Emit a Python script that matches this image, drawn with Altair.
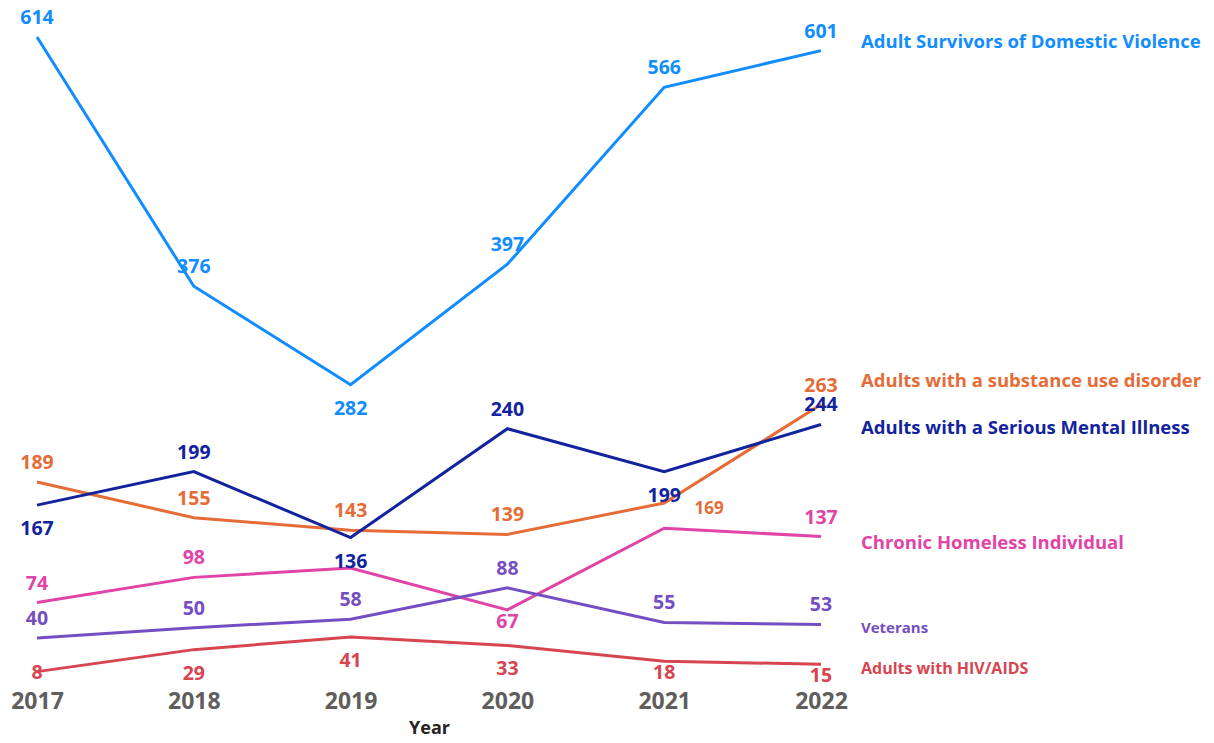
import altair as alt
import pandas as pd

years = [2017, 2018, 2019, 2020, 2021, 2022]

series_names = [
    "Adult Survivors of Domestic Violence",
    "Adults with a substance use disorder",
    "Adults with a Serious Mental Illness",
    "Chronic Homeless Individual",
    "Veterans",
    "Adults with HIV/AIDS",
]
domestic_violence = [614, 376, 282, 397, 566, 601]
substance_use = [189, 155, 143, 139, 169, 263]
mental_illness = [167, 199, 136, 240, 199, 244]
chronic_homeless = [74, 98, 107, 67, 145, 137]
veterans = [40, 50, 58, 88, 55, 53]
hiv_aids = [8, 29, 41, 33, 18, 15]

series_values = [domestic_violence, substance_use, mental_illness,
                 chronic_homeless, veterans, hiv_aids]
series_colors = ["#118DFF", "#E66C37", "#12239E", "#E044A7", "#744EC2", "#D64550"]

# where each data label sits relative to its point
label_places = [
    ["above", "above", "below", "above", "above", "above"],
    ["above", "above", "above", "above", "right", "above"],
    ["below", "above", "below", "above", "below", "above"],
    ["above", "above", "hidden", "near", "hidden", "above"],
    ["above", "above", "above", "above", "above", "above"],
    ["center", "below", "below", "below", "near", "near"],
]

# styling of the series names at the right end
name_sizes = [18.5, 18.5, 18.5, 18.5, 15, 16]
name_dy = [-9, -24, 4, 6, 4, 5]

rows = []
for name, vals, places in zip(series_names, series_values, label_places):
    for yr, v, p in zip(years, vals, places):
        rows.append({"series": name, "year": yr, "value": v, "place": p})
df = pd.DataFrame(rows)

color = alt.Color("series:N", scale=alt.Scale(domain=series_names, range=series_colors), legend=None)
x = alt.X("year:O", scale=alt.Scale(type="point", padding=0),
          axis=alt.Axis(title="Year", labelAngle=0, labelFontSize=23, labelFontWeight="bold",
                        labelColor="#605E5C", labelFont="Open Sans", labelPadding=10,
                        domain=False, ticks=False, grid=False,
                        titleFont="Open Sans", titleFontSize=18, titleFontWeight="bold",
                        titleColor="#252423", titlePadding=6))
y = alt.Y("value:Q", scale=alt.Scale(domain=[0, 614], nice=False, zero=True), axis=None)

base = alt.Chart(df)
lines = base.mark_line(strokeWidth=3).encode(x=x, y=y, color=color, detail="series:N")

place_style = {
    "above": dict(dy=-19, dx=0, fontSize=19.5),
    "below": dict(dy=24, dx=0, fontSize=19.5),
    "near": dict(dy=12, dx=0, fontSize=19.5),
    "center": dict(dy=1, dx=0, fontSize=19.5),
    "right": dict(dy=6, dx=45, fontSize=17),
}
layers = [lines]
for p, st in place_style.items():
    layers.append(
        base.transform_filter(alt.datum.place == p)
        .mark_text(font="Open Sans", fontWeight="bold", baseline="middle", align="center", **st)
        .encode(x=x, y=y, color=color, text="value:Q")
    )

for name, size, dy in zip(series_names, name_sizes, name_dy):
    layers.append(
        base.transform_filter((alt.datum.series == name) & (alt.datum.year == years[-1]))
        .mark_text(font="Open Sans", fontWeight="bold", baseline="middle", align="left",
                   dx=40, dy=dy, fontSize=size)
        .encode(x=x, y=y, color=color, text="series:N")
    )

chart = alt.layer(*layers).properties(
    width=784, height=643,
    autosize=alt.AutoSizeParams(type="none"),
    padding={"left": 29, "top": 29, "right": 380, "bottom": 55},
).configure_view(stroke=None)

chart.save("out.html", embed_options={"renderer": "svg", "actions": False})
